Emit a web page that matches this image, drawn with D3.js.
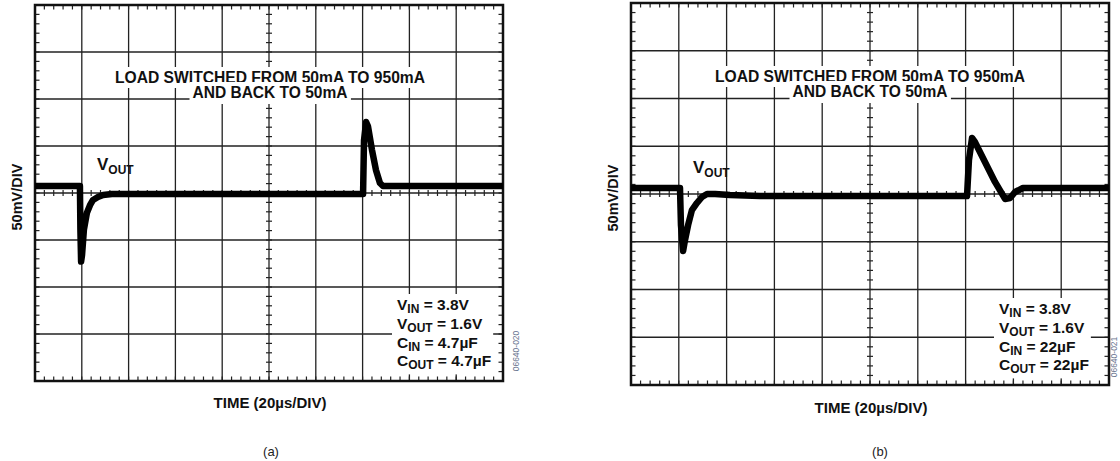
<!DOCTYPE html>
<html>
<head>
<meta charset="utf-8">
<script src="https://cdn.jsdelivr.net/npm/d3@7"></script>
<style>
  body { margin: 0; background: #fff; }
  svg { display: block; }
  text { font-family: "Liberation Sans", Arial, sans-serif; }
</style>
</head>
<body>
<div id="chart"></div>
<script>
// time in µs, Vout deviation in mV (50mV/div, 20µs/div)
const timeA = [0, 19.2, 19.4, 19.7, 20.1, 20.9, 22.2, 23.5, 24.8, 26.9, 29.1, 32.9, 140.2, 140.6, 141.5, 142.3, 144.0, 145.7, 147.4, 148.7, 200];
const mvA   = [7.4, 7.4, -39, -73, -66, -39, -21, -13, -7.4, -4.3, -2.1, -1.1, -1.1, 56, 75.5, 71, 46, 24.5, 10.6, 7.4, 7.4];

const timeB = [0, 20.5, 20.9, 21.8, 22.6, 23.9, 25.5, 27.6, 29.7, 31.8, 35.2, 41.4, 54.0, 140.6, 141.4, 142.7, 143.9, 148.1, 152.3, 156.5, 158.6, 160.7, 164.0, 200];
const mvB   = [6.3, 6.3, -32.5, -59.7, -48.2, -32.5, -16.8, -9.4, -3.1, 0, 0, -1, -2.1, -2.1, 35.6, 58.6, 54.5, 33.5, 12.6, -5.2, -4.2, 2.1, 6.3, 6.3];

const xMajor = d3.range(0, 201, 20);
const yMajor = d3.range(-200, 201, 50);
const xMinor = d3.range(0, 201, 4);
const yMinor = d3.range(-200, 201, 10);

const noteLines = ["LOAD SWITCHED FROM 50mA TO 950mA", "AND BACK TO 50mA"];
const noteWidths = [310, 155];
const condA = [["V", "IN", " = 3.8V"], ["V", "OUT", " = 1.6V"], ["C", "IN", " = 4.7µF"], ["C", "OUT", " = 4.7µF"]];
const condB = [["V", "IN", " = 3.8V"], ["V", "OUT", " = 1.6V"], ["C", "IN", " = 22µF"], ["C", "OUT", " = 22µF"]];

const panels = [
  { t: timeA, v: mvA, cond: condA, tag: "(a)", code: "06640-020",
    left: 35, top: 5, width: 468, height: 376,
    noteX: 270, noteY: [83, 98], voutX: 97, voutY: 170,
    condX: 397, condY: 310, timeY: 408, tagX: 271, codeX: 516, codeY: 351 },
  { t: timeB, v: mvB, cond: condB, tag: "(b)", code: "06640-021",
    left: 631, top: 3, width: 478, height: 382,
    noteX: 870, noteY: [82, 97], voutX: 693, voutY: 173,
    condX: 999, condY: 314, timeY: 413, tagX: 880, codeX: 1114, codeY: 357 }
];

const svg = d3.select("#chart").append("svg")
    .attr("width", 1120).attr("height", 461);
svg.append("rect").attr("width", 1120).attr("height", 461).attr("fill", "#fff");

function whiteBox(g, node, pad) {
  const b = node.getBBox();
  g.insert("rect", () => node)
      .attr("x", b.x - pad[0]).attr("y", b.y - pad[1])
      .attr("width", b.width + pad[0] + pad[2]).attr("height", b.height + pad[1] + pad[3])
      .attr("fill", "#fff");
}

function drawPanel(p) {
  const x = d3.scaleLinear().domain([0, 200]).range([p.left, p.left + p.width]);
  const y = d3.scaleLinear().domain([-200, 200]).range([p.top + p.height, p.top]);
  const g = svg.append("g");

  // grid
  g.selectAll(".vg").data(xMajor.slice(1, -1)).join("line")
      .attr("x1", d => x(d)).attr("x2", d => x(d))
      .attr("y1", y(200)).attr("y2", y(-200))
      .attr("stroke", "#222").attr("stroke-width", 1.3);
  g.selectAll(".hg").data(yMajor.slice(1, -1)).join("line")
      .attr("y1", d => y(d)).attr("y2", d => y(d))
      .attr("x1", x(0)).attr("x2", x(200))
      .attr("stroke", "#222").attr("stroke-width", 1.3);

  // minor ticks on border and centre axes
  const tk = g.append("g").attr("stroke", "#222").attr("stroke-width", 1.2);
  xMinor.forEach(d => {
    tk.append("line").attr("x1", x(d)).attr("x2", x(d)).attr("y1", y(200)).attr("y2", y(200) + 4.5);
    tk.append("line").attr("x1", x(d)).attr("x2", x(d)).attr("y1", y(-200)).attr("y2", y(-200) - 4.5);
    tk.append("line").attr("x1", x(d)).attr("x2", x(d)).attr("y1", y(0) - 3).attr("y2", y(0) + 3);
  });
  yMinor.forEach(d => {
    tk.append("line").attr("y1", y(d)).attr("y2", y(d)).attr("x1", x(0)).attr("x2", x(0) + 4.5);
    tk.append("line").attr("y1", y(d)).attr("y2", y(d)).attr("x1", x(200)).attr("x2", x(200) - 4.5);
    tk.append("line").attr("y1", y(d)).attr("y2", y(d)).attr("x1", x(100) - 3).attr("x2", x(100) + 3);
  });

  g.append("rect")
      .attr("x", x(0)).attr("y", y(200))
      .attr("width", x(200) - x(0)).attr("height", y(-200) - y(200))
      .attr("fill", "none").attr("stroke", "#111").attr("stroke-width", 2.5);

  // annotation
  noteLines.forEach((s, i) => {
    const t = g.append("text")
        .attr("x", p.noteX).attr("y", p.noteY[i])
        .attr("text-anchor", "middle")
        .attr("font-size", 16).attr("font-weight", "bold").attr("fill", "#111")
        .attr("textLength", noteWidths[i]).attr("lengthAdjust", "spacingAndGlyphs")
        .text(s);
    whiteBox(g, t.node(), [3, 2, 3, i === 0 ? 2 : 3]);
  });

  const vout = g.append("text")
      .attr("x", p.voutX).attr("y", p.voutY)
      .attr("font-size", 17).attr("font-weight", "bold").attr("fill", "#111");
  vout.append("tspan").text("V");
  vout.append("tspan").attr("font-size", 12).attr("dy", 4).text("OUT");

  const cg = g.append("g");
  p.cond.forEach((c, i) => {
    const t = cg.append("text")
        .attr("x", p.condX).attr("y", p.condY + i * 18.8)
        .attr("font-size", 15.5).attr("font-weight", "bold").attr("fill", "#111");
    t.append("tspan").text(c[0]);
    t.append("tspan").attr("font-size", 12).attr("dy", 3).text(c[1]);
    t.append("tspan").attr("dy", -3).text(c[2]);
  });
  whiteBox(g, cg.node(), [5, 2, 2, 2]);

  // trace
  const line = d3.line()
      .x((d, i) => x(p.t[i]))
      .y(d => y(d));
  g.append("path")
      .datum(p.v)
      .attr("fill", "none")
      .attr("stroke", "#000").attr("stroke-width", 6.5)
      .attr("stroke-linejoin", "round")
      .attr("d", line);

  // axis labels
  const cx = (x(0) + x(200)) / 2;
  svg.append("text")
      .attr("transform", `translate(${p.left - 13},${y(0) + 4}) rotate(-90)`)
      .attr("text-anchor", "middle")
      .attr("font-size", 14.5).attr("font-weight", "bold").attr("fill", "#111")
      .text("50mV/DIV");
  svg.append("text")
      .attr("x", cx + 1).attr("y", p.timeY)
      .attr("text-anchor", "middle")
      .attr("font-size", 15).attr("font-weight", "bold").attr("fill", "#111")
      .text("TIME (20µs/DIV)");
  svg.append("text")
      .attr("x", p.tagX).attr("y", 456)
      .attr("text-anchor", "middle")
      .attr("font-family", "'DejaVu Serif', serif")
      .attr("font-size", 13).attr("fill", "#222")
      .text(p.tag);
  svg.append("text")
      .attr("transform", `translate(${p.codeX + 3},${p.codeY}) rotate(-90)`)
      .attr("text-anchor", "middle")
      .attr("font-size", 8.5).attr("fill", "#6a7590")
      .text(p.code);
}

panels.forEach(drawPanel);
</script>
</body>
</html>
